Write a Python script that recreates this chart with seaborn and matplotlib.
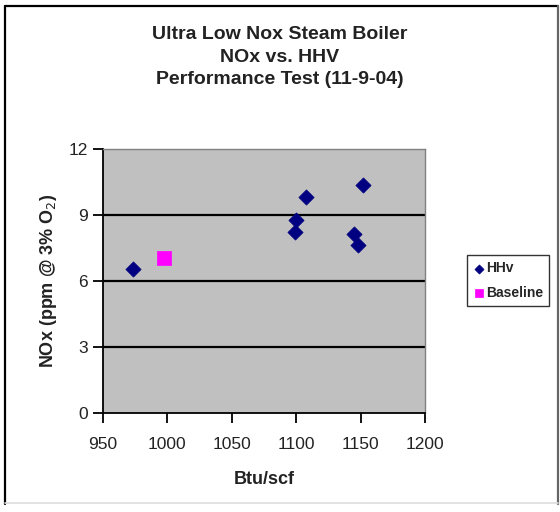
import matplotlib
matplotlib.use("Agg")
import matplotlib.pyplot as plt
import seaborn as sns
import pandas as pd
from matplotlib.lines import Line2D

# Data
hhv_btu = [973.5, 1099.8, 1098.8, 1107.4, 1152.1, 1144.9, 1148.0]
hhv_nox = [6.55, 8.77, 8.24, 9.83, 10.35, 8.15, 7.64]
base_btu = [997.4]
base_nox = [7.03]
series_names = ["HHv", "Baseline"]
x_ticks = [950, 1000, 1050, 1100, 1150, 1200]
y_ticks = [0, 3, 6, 9, 12]

df = pd.DataFrame({
    "Btu/scf": hhv_btu + base_btu,
    "NOx": hhv_nox + base_nox,
    "Series": [series_names[0]] * len(hhv_btu) + [series_names[1]] * len(base_btu),
})

sns.set_theme(style="white")
plt.rcParams["font.family"] = ["Liberation Sans", "DejaVu Sans"]

fig = plt.figure(figsize=(5.6, 5.12), dpi=100)
ax = fig.add_axes([103 / 560, 1 - 413 / 512, 322 / 560, 264 / 512])
ax.set_facecolor("#C0C0C0")

sub = df[df["Series"] == "HHv"]
sns.scatterplot(data=sub, x="Btu/scf", y="NOx", marker="D", color="#000080",
                s=60, edgecolor="#000080", linewidth=0.5, ax=ax, label="HHv", zorder=3)
sub = df[df["Series"] == "Baseline"]
sns.scatterplot(data=sub, x="Btu/scf", y="NOx", marker="s", color="#FF00FF",
                s=95, edgecolor="#FF00FF", linewidth=0.5, ax=ax, label="Baseline", zorder=3)

ax.set_xlim(950, 1200)
ax.set_ylim(0, 12)
ax.set_xticks(x_ticks)
ax.set_yticks(y_ticks)
for yv in y_ticks[1:-1]:
    ax.axhline(yv, color="black", lw=1.6, zorder=1)

for side in ["top", "right"]:
    ax.spines[side].set_color("#808080")
    ax.spines[side].set_linewidth(1.0)
for side in ["left", "bottom"]:
    ax.spines[side].set_color("black")
    ax.spines[side].set_linewidth(1.3)

ax.tick_params(axis="both", which="both", direction="out", length=7, width=1.3,
               color="black", labelsize=12.5, labelcolor="#222222",
               left=True, bottom=True)
ax.tick_params(axis="x", pad=10)
ax.tick_params(axis="y", pad=4)

ax.set_xlabel("Btu/scf", fontsize=13, fontweight="bold", labelpad=14, color="#222222")
ax.set_ylabel("NOx (ppm @ 3% O$_2$)", fontsize=13, fontweight="bold", labelpad=7, color="#222222")

fig.text(0.5, 1 - 57 / 512, "Ultra Low Nox Steam Boiler\nNOx vs. HHV\nPerformance Test (11-9-04)",
         ha="center", va="center", fontsize=14, fontweight="bold", linespacing=1.45,
         color="#222222")

leg = ax.legend(loc="upper left", bbox_to_anchor=(467 / 560, 1 - 255 / 512),
                bbox_transform=fig.transFigure, frameon=True,
                fontsize=10, handletextpad=0.1, borderpad=0.45, labelspacing=0.75,
                handlelength=0.8, markerscale=0.6, borderaxespad=0)
leg.get_frame().set_edgecolor("black")
leg.get_frame().set_linewidth(1.0)
leg.get_frame().set_boxstyle("square", pad=0)
for t in leg.get_texts():
    t.set_fontweight("bold")

# outer chart border
fig.add_artist(Line2D([5 / 560, 5 / 560], [1 - 504 / 512, 1 - 6 / 512], transform=fig.transFigure, color="black", lw=1.6))
fig.add_artist(Line2D([5 / 560, 558 / 560], [1 - 6 / 512, 1 - 6 / 512], transform=fig.transFigure, color="black", lw=1.6))
fig.add_artist(Line2D([558 / 560, 558 / 560], [1 - 504 / 512, 1 - 6 / 512], transform=fig.transFigure, color="#666666", lw=1.6))
fig.add_artist(Line2D([5 / 560, 558 / 560], [1 - 503 / 512, 1 - 503 / 512], transform=fig.transFigure, color="#DDDDDD", lw=1.2))

fig.savefig("out.png", dpi=100)
